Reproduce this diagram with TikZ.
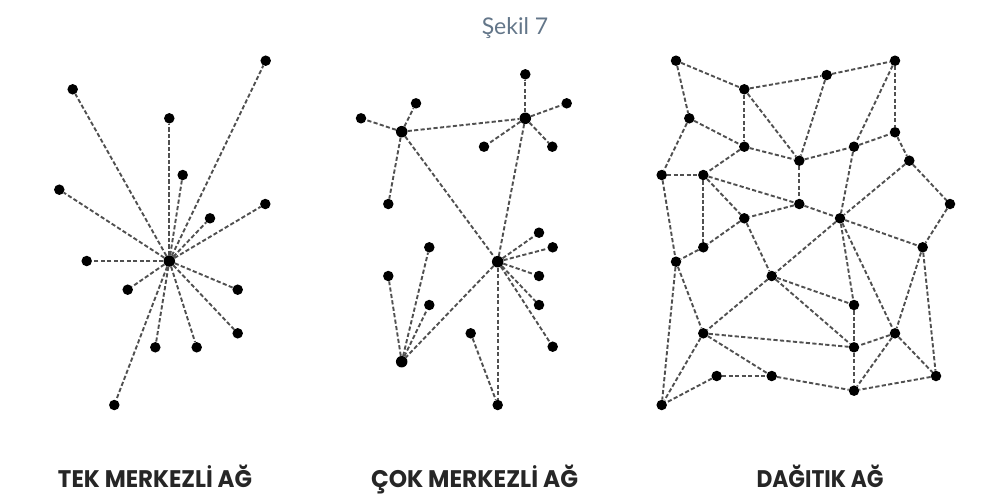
\documentclass[tikz,border=0pt]{standalone}
\usepackage{fontspec}
\usepackage{graphicx}
\newfontfamily\titlefont{Lato}
\newfontfamily\labfont{Poppins}
\definecolor{titlecol}{HTML}{637689}
\definecolor{linkcol}{HTML}{505050}
\begin{document}
\begin{tikzpicture}[x=1pt,y=-1pt,
  dot/.style={circle,fill=black,inner sep=0pt,minimum size=10.5pt},
  hub/.style={dot,minimum size=11.5pt},
  link/.style={draw=linkcol,line width=1.9pt,dash pattern=on 4.2pt off 2.3pt},
  lab/.style={anchor=base,inner sep=0pt,text=black!85},
]
\useasboundingbox (0,0) rectangle (985,501);
% title
\node[anchor=base,inner sep=0pt,text=titlecol] (title) at (515,34) {\titlefont\fontsize{23}{26}\selectfont Şekil 7};
% ---------- star network ----------
\node[hub] (c) at (169.3,261) {};
\foreach \n/\x/\y in {s1/265.7/60.7,s2/72.7/89.3,s3/169.3/118.3,s4/182.7/175,s5/59.3/189.7,s6/265.3/204,s7/210/218.3,s8/86.7/261,s9/127.7/289.7,s10/237.7/289.7,s11/237.7/333.3,s12/155.3/347.3,s13/196.7/347.3,s14/114.3/405}{
  \node[dot] (\n) at (\x,\y) {};
  \draw[link] (c) -- (\n);
}
% ---------- decentralised network ----------
\node[hub] (A) at (401.7,131.7) {};
\node[hub] (B) at (525.3,118.3) {};
\node[hub] (C) at (497.7,261.7) {};
\node[hub] (D) at (401.7,361.7) {};
\foreach \n/\x/\y/\h in {b1/525.3/74.3/B,b2/566.7/103.3/B,b3/484/146.7/B,b4/552.3/146.7/B,
  a1/416/103.3/A,a2/361/118.3/A,a3/388.3/204/A,
  c1/539/232.7/C,c2/552.7/247.3/C,c3/539/276/C,c4/539/305/C,c5/552.7/346.7/C,c6/497.7/405/C,
  d1/429.3/247.3/D,d2/388.3/276/D,d3/429.3/305/D}{
  \node[dot] (\n) at (\x,\y) {};
  \draw[link] (\h) -- (\n);
}
\node[dot] (e1) at (470.7,333.3) {};
\draw[link] (e1) -- (c6);
\draw[link] (A) -- (B);
\draw[link] (A) -- (C);
\draw[link] (B) -- (C);
\draw[link] (C) -- (D);
% ---------- distributed network ----------
\foreach \n/\x/\y in {n1/676/60.7,n2/744.3/89.3,n3/826.7/75,n4/895/60.7,n5/689.3/118.3,
  n6/744.3/146.7,n7/799.3/160.7,n8/854/146.7,n9/895/132.3,n10/909.3/160.7,
  n11/661.7/175,n12/703.3/175,n13/799.3/204,n14/950/204,n15/744.3/218.3,
  n16/840/218.3,n17/703.3/247.3,n18/922.7/247.3,n19/676/261.7,n20/771.7/276,
  n21/854/305,n22/703.3/333.3,n23/895/333.3,n24/854/347.3,n25/716.7/376,
  n26/771.7/376,n27/936/376,n28/854/390.7,n29/661.7/405}{
  \node[dot] (\n) at (\x,\y) {};
}
\foreach \a/\b in {n1/n2,n1/n5,n2/n3,n2/n6,n2/n7,n3/n4,n3/n7,n4/n9,n4/n8,
  n5/n6,n5/n11,n6/n7,n6/n12,n7/n8,n7/n13,n8/n9,n8/n16,n9/n10,n10/n16,n10/n14,
  n11/n12,n11/n19,n12/n13,n12/n15,n12/n17,n13/n15,n13/n16,n14/n18,n15/n17,n15/n20,
  n16/n18,n16/n20,n16/n21,n16/n23,n17/n19,n18/n23,n18/n27,n19/n22,n19/n29,
  n20/n21,n20/n22,n20/n24,n21/n24,n22/n24,n22/n26,n22/n29,n23/n24,n23/n28,n23/n27,
  n24/n28,n25/n26,n25/n29,n26/n28,n27/n28}{
  \draw[link] (\a) -- (\b);
}
% ---------- labels ----------
\node[lab] (l1) at (155,487.3) {\resizebox{194pt}{\height}{\labfont\bfseries\fontsize{24}{27}\selectfont TEK MERKEZLİ AĞ}};
\node[lab] (l2) at (474.5,487.3) {\resizebox{207pt}{\height}{\labfont\bfseries\fontsize{24}{27}\selectfont ÇOK MERKEZLİ AĞ}};
\node[lab] (l3) at (820,487.3) {\resizebox{127pt}{\height}{\labfont\bfseries\fontsize{24}{27}\selectfont DAĞITIK AĞ}};
\end{tikzpicture}
\end{document}
